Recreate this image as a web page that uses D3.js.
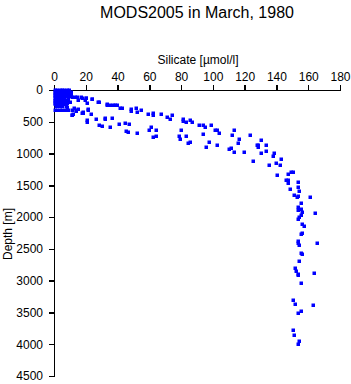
<!DOCTYPE html>
<html>
<head>
<meta charset="utf-8">
<script src="https://cdn.jsdelivr.net/npm/d3@7"></script>
<style>
  body { margin: 0; background: #fff; }
  text { font-family: "Liberation Sans", Arial, sans-serif; }
</style>
</head>
<body>
<div id="chart"></div>
<script>
// [silicate umol/l, depth m]
const surfaceLayer = [
  [0.5,0],[2,0],[3.5,0],[5,0],[6.5,0],[8,0],[9.5,0],
  [0.5,25],[2,25],[3.5,25],[5,25],[6.5,25],[8,25],[9.5,25],[11,25],
  [0.5,50],[2,50],[3.5,50],[5,50],[6.5,50],[8,50],[10,50],
  [0.5,75],[2,75],[3.5,75],[5,75],[6.5,75],[8,75],[9.5,75],[11,75],
  [0.5,100],[2,100],[3.5,100],[5,100],[6.5,100],[8,100],[9.5,100],
  [0.5,125],[2,125],[3.5,125],[5,125],[6.5,125],[8.5,125],
  [0.5,150],[2,150],[3.5,150],[5,150],[6.5,150],[8,150],
  [0.5,175],[2,175],[3.5,175],[5,175],[7,175],[9,175],
  [0.5,200],[2,200],[4,200],[6,200],[8,200],
  [0.5,225],[2.5,225],[4.5,225],[7,225],
  [1,250],[3,250],[5,250],[7.5,250],
  [0.5,310],[2,310],[3.5,310],[5,310],[7,310],[8.5,310]
];

const upperBranch = [
  [13.2,105],[17.0,105],[20.3,131],[24.1,146],[28.3,194],[33.2,225],[35.2,241],
  [37.3,241],[39.5,241],[42.6,288],[48.3,304],[48.3,326],[51.4,288],[52.2,351],
  [54.9,319],[59.2,382],[62.1,367],[62.1,398],[67.2,385],[70.9,420],[73.0,456],
  [74.1,398],[80.9,461],[81.0,492],[83.1,508],[85.8,477],[87.0,508],[91.1,555],
  [94.0,555],[95.0,587],[99.0,555],[101.1,634],[102.8,634],[103.9,681],[113.5,634],
  [123.2,713],[111.8,713],[130.1,791],[116.3,776],[115.6,839],[128.6,865],[127.6,870],
  [128.6,902],[133.6,870],[133.6,964],[138.7,996],[137.6,1034],[142.7,1081],[139.7,1153],
  [142.4,1175],[135.5,1185],[125.1,1122],[130.5,996],[119.8,971],[113.5,980],[111.4,908],
  [110.3,928],[102.8,870],[97.7,823],[95.9,902],[94.0,697]
];

const lowerBranch = [
  [11.5,398],[12.1,382],[13.8,330],[15.3,304],[18.1,351],[17.4,367],[21.2,304],
  [23.1,382],[20.6,477],[20.6,499],[26.2,461],[28.1,555],[30.2,571],[32.3,461],
  [35.2,587],[36.3,445],[41.1,540],[44.9,524],[47.0,540],[45.1,650],[46.4,666],
  [52.2,681],[60.9,577],[60.0,634],[64.0,634],[62.1,744],[64.2,729],[78.9,729],
  [79.5,776],[80.1,634],[82.9,729],[84.2,829],[85.6,813],[27.9,194],[32.1,445],
  [33.2,236],[38.4,236],[41.5,288],[14.3,105],[15.3,157],[17.4,131],[19.5,157],
  [20.1,131],[20.6,209],[23.7,142],[10.1,184],[11.1,105],[8.0,263],[12.6,278],
  [11.1,315],[13.8,315],[21.6,315],[18.4,367],[11.1,393]
];

const deepLayer = [
  [140.5,1342],[147.5,1322],[149.0,1295],[150.6,1295],[145.8,1411],[147.5,1416],
  [147.5,1468],[153.8,1448],[153.6,1521],[148.7,1562],[154.4,1594],[151.2,1657],
  [152.8,1688],[153.6,1668],[161.3,1688],[155.6,1783],[153.8,1846],[153.6,1888],
  [155.6,1877],[156.3,1915],[155.6,1962],[154.4,2003],[153.8,2025],[164.5,1935],
  [156.3,2113],[157.5,2145],[156.1,2255],[155.6,2270],[153.8,2381],[153.6,2412],
  [154.4,2444],[165.3,2412],[155.6,2569],[156.3,2585],[154.4,2695],[151.7,2805],
  [152.5,2848],[153.4,2895],[153.8,2906],[163.6,2884],[155.6,3041],[150.6,3309],
  [151.7,3372],[163.2,3383],[155.6,3477],[153.8,3513],[150.6,3772],[151.2,3855],
  [154.4,3954],[153.4,4001]
];

const xTicks = [0, 20, 40, 60, 80, 100, 120, 140, 160, 180];
const yTicks = [0, 500, 1000, 1500, 2000, 2500, 3000, 3500, 4000, 4500];

const points = [].concat(surfaceLayer, upperBranch, lowerBranch, deepLayer);

const width = 351, height = 384;
const svg = d3.select("#chart").append("svg")
  .attr("width", width)
  .attr("height", height);

const x = d3.scaleLinear().domain([0, 180]).range([54, 340]);
const y = d3.scaleLinear().domain([0, 4500]).range([90, 376]);

// titulo
svg.append("text")
  .attr("x", 197).attr("y", 18)
  .attr("text-anchor", "middle")
  .attr("font-size", 16)
  .text("MODS2005 in March, 1980");

svg.append("text")
  .attr("x", 198).attr("y", 64)
  .attr("text-anchor", "middle")
  .attr("font-size", 12)
  .text("Silicate [\u00b5mol/l]");

svg.append("text")
  .attr("transform", "translate(12,234) rotate(-90)")
  .attr("text-anchor", "middle")
  .attr("font-size", 12)
  .text("Depth [m]");

const xAxis = svg.append("g")
  .attr("transform", "translate(0,90)")
  .call(d3.axisTop(x).tickValues(xTicks).tickSize(5).tickSizeOuter(0).tickPadding(4));

const yAxis = svg.append("g")
  .attr("transform", "translate(54,0)")
  .call(d3.axisLeft(y).tickValues(yTicks).tickFormat(d3.format("d")).tickSize(5).tickSizeOuter(0).tickPadding(6));

[xAxis, yAxis].forEach(g => {
  g.selectAll("path, line").attr("stroke", "#000").attr("stroke-width", 1.5).attr("shape-rendering", "crispEdges");
  g.selectAll("text").attr("font-size", 12).attr("fill", "#000")
    .attr("font-family", "\"Liberation Sans\", Arial, sans-serif");
});

svg.append("g")
  .selectAll("rect")
  .data(points)
  .join("rect")
  .attr("x", d => Math.round(x(d[0])) - 1.5)
  .attr("y", d => Math.round(y(d[1])) - 1.5)
  .attr("width", 3.5)
  .attr("height", 3.5)
  .attr("fill", "#0000ff");
</script>
</body>
</html>
